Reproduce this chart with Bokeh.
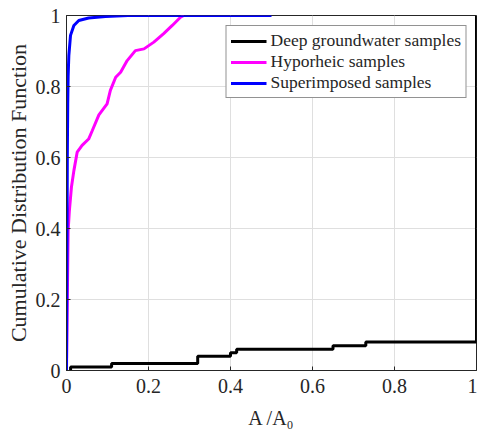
from bokeh.plotting import figure
from bokeh.models import FixedTicker, Legend, LegendItem, Range1d, NumeralTickFormatter
from bokeh.embed import file_html
from bokeh.resources import INLINE

# Deep groundwater samples (step CDF)
deep_x = [0.01, 0.01, 0.11, 0.32, 0.40, 0.415, 0.65, 0.73, 1.0]
deep_y = [0.0, 0.01, 0.02, 0.04, 0.05, 0.06, 0.07, 0.08, 1.0]

# Hyporheic samples
hyp_x = [0.0, 0.002, 0.004, 0.007, 0.012, 0.018, 0.026, 0.038, 0.054, 0.063, 0.079,
         0.099, 0.107, 0.12, 0.132, 0.148, 0.168, 0.189, 0.213, 0.237, 0.258, 0.278, 0.286]
hyp_y = [0.0, 0.2, 0.394, 0.45, 0.516, 0.563, 0.615, 0.634, 0.652, 0.676, 0.72,
         0.751, 0.789, 0.826, 0.84, 0.873, 0.901, 0.906, 0.925, 0.949, 0.972, 0.995, 1.0]

# Superimposed samples
sup_x = [0.0, 0.001, 0.002, 0.003, 0.004, 0.0057, 0.0098, 0.018, 0.03, 0.054, 0.095, 0.15, 0.5]
sup_y = [0.0, 0.3, 0.6, 0.75, 0.83, 0.887, 0.944, 0.972, 0.986, 0.993, 0.997, 1.0, 1.0]

ticks = [0, 0.2, 0.4, 0.6, 0.8, 1]
series_names = ["Deep groundwater samples", "Hyporheic samples", "Superimposed samples"]

FONT = "Liberation Serif"
AX = "#262626"

p = figure(width=477, height=432, output_backend="svg", toolbar_location=None,
           x_range=Range1d(0, 1), y_range=Range1d(0, 1),
           min_border_left=66, min_border_right=1, min_border_top=15, min_border_bottom=62)
p.outline_line_color = AX
p.outline_line_width = 1
p.background_fill_color = "white"
p.border_fill_color = "white"

r_deep = p.step(deep_x, deep_y, mode="after", line_color="black", line_width=3)
r_hyp = p.line(hyp_x, hyp_y, line_color="#ff00ff", line_width=3)
r_sup = p.line(sup_x, sup_y, line_color="#0000ff", line_width=3)

for ax in (p.xaxis[0], p.yaxis[0]):
    ax.ticker = FixedTicker(ticks=ticks)
    ax.formatter = NumeralTickFormatter(format="0.[0]")
    ax.major_label_text_font = FONT
    ax.major_label_text_font_size = "20px"
    ax.major_label_text_color = AX
    ax.axis_label_text_font = FONT
    ax.axis_label_text_font_style = "normal"
    ax.axis_label_text_color = AX
    ax.axis_line_color = AX
    ax.major_tick_line_color = AX
    ax.major_tick_in = 4
    ax.major_tick_out = 0
    ax.minor_tick_line_color = None

p.xaxis.axis_label = "A /A\u2080"
p.yaxis.axis_label = "Cumulative Distribution Function"
p.xaxis.axis_label_text_font_size = "20px"
p.yaxis.axis_label_text_font_size = "22px"
p.xaxis.major_label_standoff = 8
p.yaxis.major_label_standoff = 6
p.xaxis.axis_label_standoff = 11
p.yaxis.axis_label_standoff = 2

p.xgrid.ticker = FixedTicker(ticks=ticks)
p.ygrid.ticker = FixedTicker(ticks=ticks)
p.xgrid.grid_line_color = "#dfdfdf"
p.ygrid.grid_line_color = "#dfdfdf"

legend = Legend(items=[LegendItem(label=series_names[0], renderers=[r_deep]),
                       LegendItem(label=series_names[1], renderers=[r_hyp]),
                       LegendItem(label=series_names[2], renderers=[r_sup])],
                location="top_right")
legend.margin = 10
legend.padding = 4
legend.spacing = 0
legend.label_height = 20
legend.glyph_height = 20
legend.glyph_width = 36
legend.label_standoff = 4
legend.label_text_font = FONT
legend.label_text_font_size = "17.5px"
legend.label_text_color = AX
legend.border_line_color = AX
legend.border_line_width = 1
legend.background_fill_alpha = 1
p.add_layout(legend)

open("out.html", "w").write(file_html(p, INLINE))
